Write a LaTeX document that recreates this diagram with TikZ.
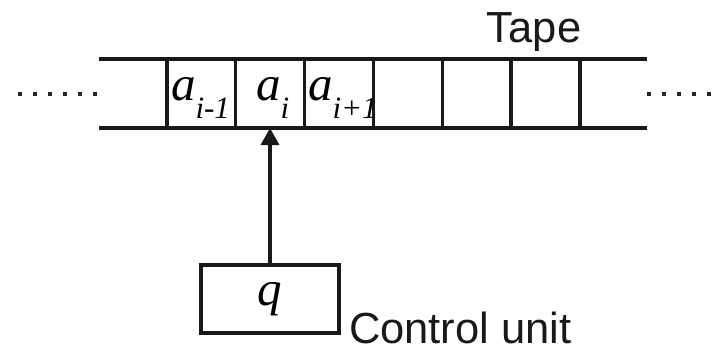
\documentclass[tikz,border=0pt]{standalone}
\usepackage{fontspec}
\setmainfont{Liberation Sans}
\newfontfamily\tms{Liberation Serif}
\usetikzlibrary{arrows.meta}
\tikzset{
  lw/.style={line width=3.3pt, draw=black!90},
  cell/.style={lw, rectangle, minimum width=68.8pt, minimum height=69pt, inner sep=0pt, outer sep=0pt},
  sym/.style={inner sep=0pt, outer sep=0pt, anchor=base west, font=\tms\itshape\fontsize{49}{49}\selectfont},
  lbl/.style={inner sep=0pt, outer sep=0pt, font=\fontsize{43.5}{44}\selectfont, text=black!90},
  dotm/.style={fill=black!85}
}
\newcommand{\sbs}[1]{\raisebox{-18pt}{\fontsize{31}{31}\selectfont #1}}
\begin{document}
\begin{tikzpicture}[x=1pt,y=-1pt]
\useasboundingbox (0,0) rectangle (715,349);
% tape cells
\foreach \k in {1,...,6}{
  \node[cell] (c\k) at ({167+68.83*(\k-0.5)},93.5) {};
}
\coordinate (tl) at (99,59);
\coordinate (tr) at (647,59);
\coordinate (bl) at (99,128);
\coordinate (br) at (647,128);
\draw[lw] (tl) -- (c1.north west);
\draw[lw] (c6.north east) -- (tr);
\draw[lw] (bl) -- (c1.south west);
\draw[lw] (c6.south east) -- (br);
% labels
\node[sym] (l1) at (171,100) {a\sbs{i-1}};
\node[sym] (l2) at (256,100) {a\sbs{i}};
\node[sym] (l3) at (308,100) {a\sbs{i+1}};
% dots
\foreach \x in {20,35,50,65,80,95}{\fill[dotm] (\x-1.6,92.4) rectangle (\x+1.6,95.6);}
\foreach \x in {649,664,679,694,709}{\fill[dotm] (\x-1.6,92.4) rectangle (\x+1.6,95.6);}
% control unit
\node[lw, rectangle, minimum width=138pt, minimum height=68pt, inner sep=0pt, outer sep=0pt,
      font=\tms\itshape\fontsize{49}{49}\selectfont] (q) at (270,299) {q};
\draw[lw, -{Triangle[width=18pt,length=17pt]}] (q.north) -- (q.north |- c2.south);
% texts
\node[lbl, anchor=base] (tape) at (534,42) {Tape};
\node[lbl, anchor=base west] (cu) at (349,343) {Control unit};
\end{tikzpicture}
\end{document}
